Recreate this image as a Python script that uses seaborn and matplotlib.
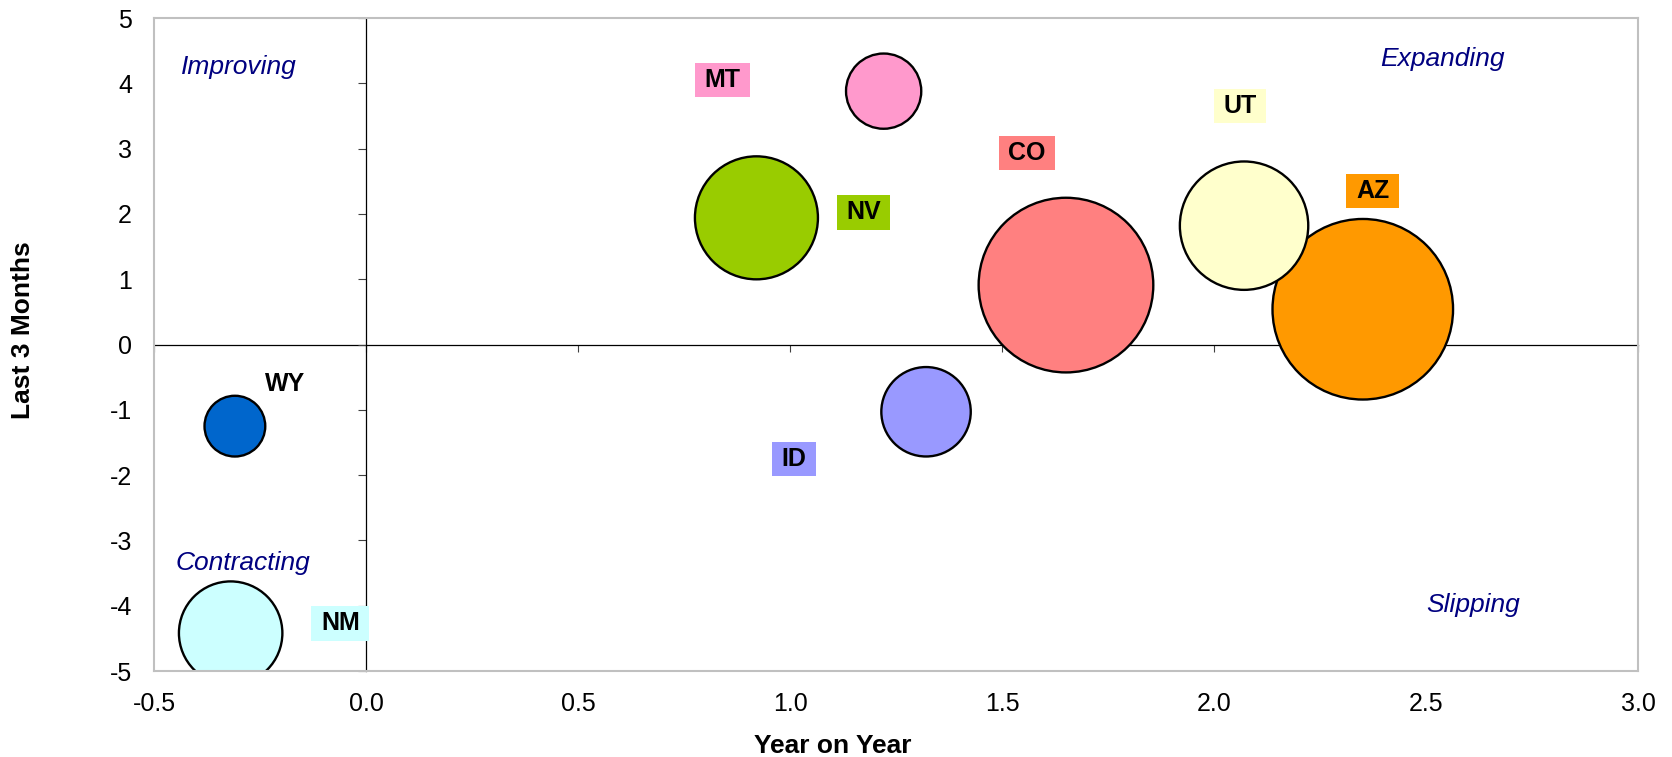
import pandas as pd
import matplotlib
matplotlib.use("Agg")
import matplotlib.pyplot as plt
import seaborn as sns

# Chart data
states = ["AZ", "CO", "ID", "MT", "NM", "NV", "UT", "WY"]
year_on_year = [2.35, 1.65, 1.32, 1.22, -0.32, 0.92, 2.07, -0.31]
last_3_months = [0.54, 0.91, -1.03, 3.88, -4.42, 1.94, 1.82, -1.25]
bubble_size = [2.65, 2.48, 0.65, 0.46, 0.87, 1.23, 1.34, 0.30]

colors = {
    "AZ": "#FF9900", "CO": "#FF8080", "ID": "#9999FF", "MT": "#FF99CC",
    "NM": "#CCFFFF", "NV": "#99CC00", "UT": "#FFFFCC", "WY": "#0066CC",
}

x_ticks = [-0.5, 0.0, 0.5, 1.0, 1.5, 2.0, 2.5, 3.0]
y_ticks = [-5, -4, -3, -2, -1, 0, 1, 2, 3, 4, 5]

quadrants = ["Improving", "Expanding", "Contracting", "Slipping"]

# Layout: label offsets (points) from bubble centre, quadrant label spots (data)
label_offset = {
    "AZ": (7, 85), "CO": (-28, 95), "ID": (-95, -34), "MT": (-116, 8),
    "NM": (79, 7), "NV": (77, 4), "UT": (-3, 86), "WY": (36, 30),
}
quadrant_pos = {
    "Improving": (-0.301, 4.14), "Expanding": (2.538, 4.27),
    "Contracting": (-0.292, -3.455), "Slipping": (2.611, -4.09),
}

df = pd.DataFrame({"state": states, "yoy": year_on_year,
                   "last3": last_3_months, "size": bubble_size})

sns.set_theme(style="white")
plt.rcParams["font.family"] = ["Liberation Sans", "DejaVu Sans"]
plt.rcParams["axes.unicode_minus"] = False
plt.rcParams["text.color"] = "black"

fig = plt.figure(figsize=(16.72, 7.57), dpi=100)
ax = fig.add_axes([0.0923, 0.1136, 0.8876, 0.8626])

sns.scatterplot(data=df, x="yoy", y="last3", hue="state", palette=colors,
                size="size", sizes=(0, 16900), size_norm=(0, max(bubble_size)),
                edgecolor="black", linewidth=1.7, alpha=1, legend=False, ax=ax)

ax.set_xlim(-0.5, 3.0)
ax.set_ylim(-5, 5)
ax.set_xticks(x_ticks, labels=[f"{v:.1f}" for v in x_ticks])
ax.set_yticks(y_ticks, labels=[str(v) for v in y_ticks])
ax.tick_params(axis="x", length=0, pad=15, labelsize=18, labelcolor="black")
ax.tick_params(axis="y", length=0, pad=16, labelsize=18, labelcolor="black")
ax.set_xlabel("")
ax.set_ylabel("")
for sp in ax.spines.values():
    sp.set_color("#C0C0C0")
    sp.set_linewidth(1.5)

# Axis lines crossing at zero, with their own tick marks
sx = ax.secondary_xaxis(0, transform=ax.transData)
sx.set_xticks(x_ticks)
sx.tick_params(axis="x", direction="out", length=5, width=0.8, color="#404040",
               labelbottom=False, labeltop=False)
sx.spines["bottom"].set_linewidth(0.9)
sx.spines["bottom"].set_color("black")

sy = ax.secondary_yaxis(0, transform=ax.transData)
sy.set_yticks(y_ticks)
sy.tick_params(axis="y", direction="out", length=6, width=0.8, color="#404040",
               labelleft=False, labelright=False)
sy.spines["left"].set_linewidth(0.9)
sy.spines["left"].set_color("black")

# State labels
for st, x, y in zip(states, year_on_year, last_3_months):
    box = None if st == "WY" else dict(boxstyle="square,pad=0.38",
                                       mutation_aspect=0.55,
                                       facecolor=colors[st], edgecolor="none")
    ax.annotate(st, (x, y), xytext=label_offset[st], textcoords="offset points",
                ha="center", va="center", fontsize=18, fontweight="bold",
                color="black", bbox=box, zorder=5)

# Quadrant names
for q in quadrants:
    qx, qy = quadrant_pos[q]
    ax.text(qx, qy, q, ha="center", va="baseline", fontsize=19,
            style="italic", color="#000080")

fig.text(23 / 1672, 1 - 330.5 / 757, "Last 3 Months", rotation=90,
         ha="center", va="center", fontsize=19, fontweight="bold", color="black")
fig.text(832.7 / 1672, 1 - 753 / 757, "Year on Year", ha="center",
         va="baseline", fontsize=19, fontweight="bold", color="black")

fig.savefig("out.png", dpi=100)
